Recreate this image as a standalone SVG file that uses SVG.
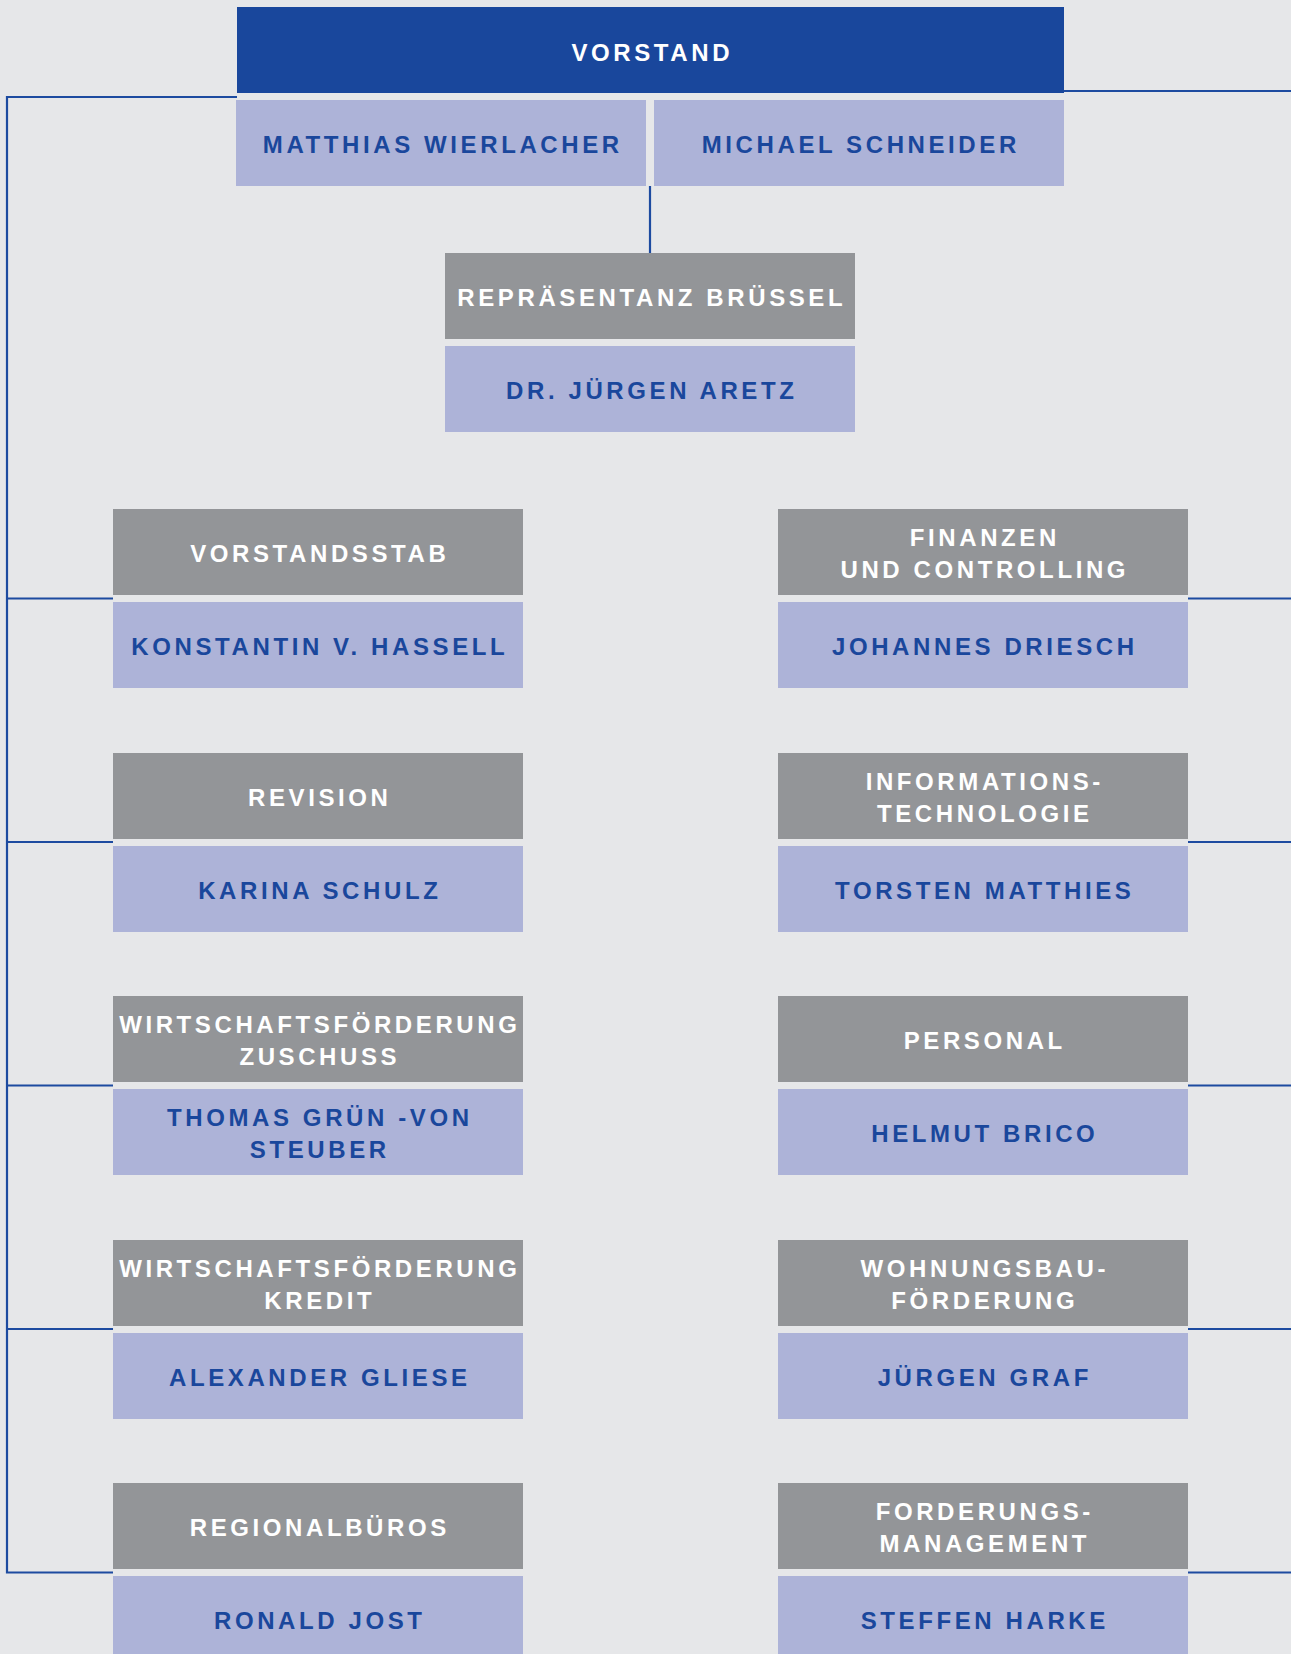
<svg xmlns="http://www.w3.org/2000/svg" width="1291" height="1654" viewBox="0 0 1291 1654">
<style>
.bg{fill:#e6e7e9}
.top{fill:#19479c}
.unit{fill:#939598}
.name{fill:#adb3d8}
text{font-family:"Liberation Sans",Arial,sans-serif;font-weight:bold;font-size:24px;letter-spacing:3.6px;text-anchor:middle}
.w{fill:#ffffff}
.b{fill:#1a479c}
.con{stroke:#1d4ba0;stroke-width:2.2;fill:none}
</style>
<rect class="bg" x="0" y="0" width="1291" height="1654"/>
<g id="connectors">
<path class="con" d="M237,97 H7 V1572.5 H113"/>
<path class="con" d="M7,598.5 H113 M7,842 H113 M7,1085.5 H113 M7,1329 H113"/>
<path class="con" d="M1064,91 H1291"/>
<path class="con" d="M1188,598.5 H1291 M1188,842 H1291 M1188,1085.5 H1291 M1188,1329 H1291 M1188,1572.5 H1291"/>
<path class="con" d="M650,186 V253"/>
</g>
<g id="vorstand">
<rect class="top" x="237" y="7" width="827" height="86"/>
<text class="w" x="652.3" y="60.5">VORSTAND</text>
</g>
<g id="wierlacher">
<rect class="name" x="236" y="100" width="410" height="86"/>
<text class="b" x="442.8" y="153">MATTHIAS WIERLACHER</text>
</g>
<g id="schneider">
<rect class="name" x="654" y="100" width="410" height="86"/>
<text class="b" x="860.8" y="153">MICHAEL SCHNEIDER</text>
</g>
<g id="bruessel">
<rect class="unit" x="445" y="253" width="410" height="86"/>
<text class="w" x="651.8" y="306">REPRÄSENTANZ BRÜSSEL</text>
<rect class="name" x="445" y="346" width="410" height="86"/>
<text class="b" x="651.8" y="399">DR. JÜRGEN ARETZ</text>
</g>
<g id="vorstandsstab">
<rect class="unit" x="113" y="509" width="410" height="86"/>
<text class="w" x="319.8" y="562">VORSTANDSSTAB</text>
<rect class="name" x="113" y="602" width="410" height="86"/>
<text class="b" x="319.8" y="655">KONSTANTIN V. HASSELL</text>
</g>
<g id="finanzen">
<rect class="unit" x="778" y="509" width="410" height="86"/>
<text class="w" x="984.8" y="546">FINANZEN</text>
<text class="w" x="984.8" y="578">UND CONTROLLING</text>
<rect class="name" x="778" y="602" width="410" height="86"/>
<text class="b" x="984.8" y="655">JOHANNES DRIESCH</text>
</g>
<g id="revision">
<rect class="unit" x="113" y="753" width="410" height="86"/>
<text class="w" x="319.8" y="806">REVISION</text>
<rect class="name" x="113" y="846" width="410" height="86"/>
<text class="b" x="319.8" y="899">KARINA SCHULZ</text>
</g>
<g id="it">
<rect class="unit" x="778" y="753" width="410" height="86"/>
<text class="w" x="984.8" y="790">INFORMATIONS-</text>
<text class="w" x="984.8" y="822">TECHNOLOGIE</text>
<rect class="name" x="778" y="846" width="410" height="86"/>
<text class="b" x="984.8" y="899">TORSTEN MATTHIES</text>
</g>
<g id="wf-zuschuss">
<rect class="unit" x="113" y="996" width="410" height="86"/>
<text class="w" x="319.8" y="1033">WIRTSCHAFTSFÖRDERUNG</text>
<text class="w" x="319.8" y="1065">ZUSCHUSS</text>
<rect class="name" x="113" y="1089" width="410" height="86"/>
<text class="b" x="319.8" y="1126">THOMAS GRÜN -VON</text>
<text class="b" x="319.8" y="1158">STEUBER</text>
</g>
<g id="personal">
<rect class="unit" x="778" y="996" width="410" height="86"/>
<text class="w" x="984.8" y="1049">PERSONAL</text>
<rect class="name" x="778" y="1089" width="410" height="86"/>
<text class="b" x="984.8" y="1142">HELMUT BRICO</text>
</g>
<g id="wf-kredit">
<rect class="unit" x="113" y="1240" width="410" height="86"/>
<text class="w" x="319.8" y="1277">WIRTSCHAFTSFÖRDERUNG</text>
<text class="w" x="319.8" y="1309">KREDIT</text>
<rect class="name" x="113" y="1333" width="410" height="86"/>
<text class="b" x="319.8" y="1386">ALEXANDER GLIESE</text>
</g>
<g id="wohnungsbau">
<rect class="unit" x="778" y="1240" width="410" height="86"/>
<text class="w" x="984.8" y="1277">WOHNUNGSBAU-</text>
<text class="w" x="984.8" y="1309">FÖRDERUNG</text>
<rect class="name" x="778" y="1333" width="410" height="86"/>
<text class="b" x="984.8" y="1386">JÜRGEN GRAF</text>
</g>
<g id="regionalbueros">
<rect class="unit" x="113" y="1483" width="410" height="86"/>
<text class="w" x="319.8" y="1536">REGIONALBÜROS</text>
<rect class="name" x="113" y="1576" width="410" height="86"/>
<text class="b" x="319.8" y="1629">RONALD JOST</text>
</g>
<g id="forderungsmanagement">
<rect class="unit" x="778" y="1483" width="410" height="86"/>
<text class="w" x="984.8" y="1520">FORDERUNGS-</text>
<text class="w" x="984.8" y="1552">MANAGEMENT</text>
<rect class="name" x="778" y="1576" width="410" height="86"/>
<text class="b" x="984.8" y="1629">STEFFEN HARKE</text>
</g>
</svg>
